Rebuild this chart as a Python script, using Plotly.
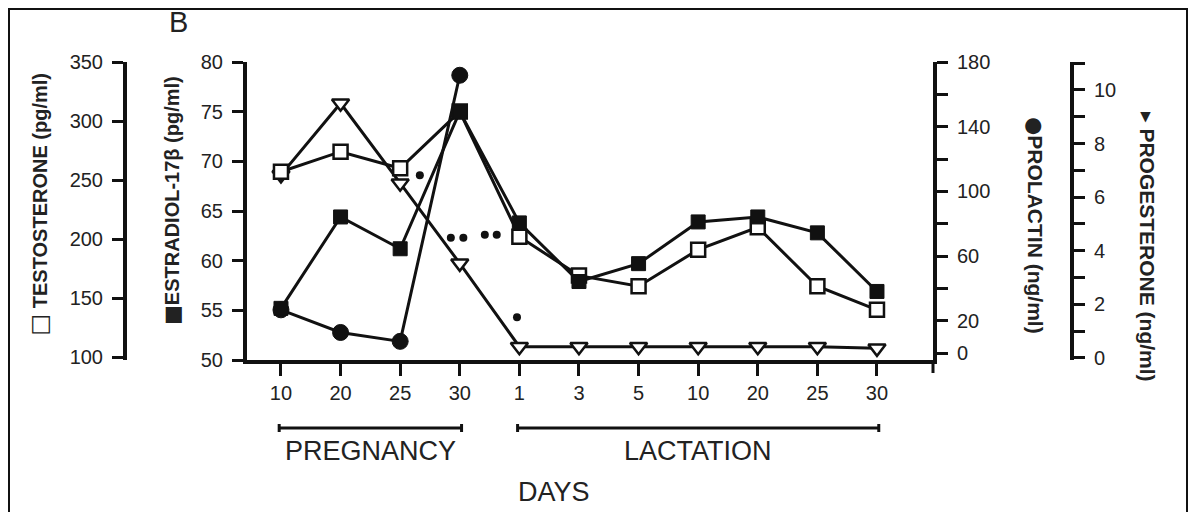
import plotly.graph_objects as go

# ---- data -------------------------------------------------------------
day_labels = ["10", "20", "25", "30", "1", "3", "5", "10", "20", "25", "30"]
testosterone = [257, 274, 260, 308, 202, 169, 160, 191, 210, 160, 140]      # pg/ml
estradiol = [55.2, 64.4, 61.2, 75.0, 63.8, 57.9, 59.7, 63.9, 64.4, 62.8, 56.9]  # pg/ml
prolactin = [26.7, 12.7, 7.2, 171.8]                                      # ng/ml, pregnancy only
progesterone = [6.83, 9.5, 6.52, 3.53, 0.42, 0.42, 0.42, 0.42, 0.42, 0.42, 0.36]  # ng/ml

# significance marks (day index, estradiol-scale height)
sig_x = [2.33, 2.85, 3.06, 3.42, 3.62, 3.96]
sig_y = [68.6, 62.3, 62.3, 62.6, 62.6, 54.3]

periods = [("PREGNANCY", 0, 3), ("LACTATION", 4, 10)]

testo_ticks = [100, 150, 200, 250, 300, 350]
estra_ticks = [50, 55, 60, 65, 70, 75, 80]
prl_ticks = [0, 20, 40, 60, 80, 100, 120, 140, 160, 180]
prl_text = ["0", "20", "", "60", "", "100", "", "140", "", "180"]
prog_ticks = list(range(12))
prog_text = ["0", "", "2", "", "4", "", "6", "", "8", "", "10", ""]

# ---- styling / geometry -------------------------------------------------
W, H = 1195, 512
INK = "#111111"
TXT = "#222222"
FONT = "Liberation Sans, Arial, Helvetica, sans-serif"
SYMFONT = "DejaVu Sans"


def px_x(p):
    return p / W


def px_y(p):
    return 1 - p / H


def sym(ch, size):
    return f'<span style="font-size:{size}px;font-family:{SYMFONT}">{ch}</span>'


X_DOM = [px_x(247), px_x(933)]
Y_DOM = [px_y(360), px_y(62)]

x = list(range(len(day_labels)))
line = dict(color=INK, width=3)

fig = go.Figure()
fig.add_trace(go.Scatter(
    x=x, y=progesterone, yaxis="y", mode="lines+markers", line=line,
    marker=dict(symbol="triangle-down", size=15, color="white",
                line=dict(color=INK, width=2.5))))
fig.add_trace(go.Scatter(
    x=x, y=testosterone, yaxis="y2", mode="lines+markers", line=line,
    marker=dict(symbol="square", size=14, color="white",
                line=dict(color=INK, width=2.5))))
fig.add_trace(go.Scatter(
    x=x[:len(prolactin)], y=prolactin, yaxis="y3", mode="lines+markers", line=line,
    marker=dict(symbol="circle", size=16, color=INK, line=dict(color=INK, width=1))))
fig.add_trace(go.Scatter(
    x=x, y=estradiol, yaxis="y4", mode="lines+markers", line=line,
    marker=dict(symbol="square", size=14, color=INK, line=dict(color=INK, width=1))))
fig.add_trace(go.Scatter(
    x=sig_x, y=sig_y, yaxis="y4", mode="markers",
    marker=dict(symbol="circle", size=8, color=INK)))

axis_base = dict(
    showline=True, linecolor=INK, linewidth=4, ticks="outside", ticklen=11,
    tickwidth=3, tickcolor=INK, showgrid=False, zeroline=False,
    tickfont=dict(family=FONT, size=20, color=TXT), domain=Y_DOM,
    automargin=False, fixedrange=True, ticklabelstandoff=5,
)

fig.update_layout(
    width=W, height=H, template="none", showlegend=False,
    margin=dict(l=0, r=0, t=0, b=0, pad=0),
    paper_bgcolor="white", plot_bgcolor="white",
    xaxis=dict(
        domain=X_DOM, range=[-0.57, 10.94], anchor="y",
        tickvals=x, ticktext=day_labels, showline=True, linecolor=INK,
        linewidth=4, ticks="outside", ticklen=12, tickwidth=3, tickcolor=INK,
        showgrid=False, zeroline=False, automargin=False, fixedrange=True,
        tickfont=dict(family=FONT, size=20, color=TXT), ticklabelstandoff=0,
    ),
    yaxis=dict(axis_base, anchor="free", position=px_x(1072), side="right",
               range=[-0.075, 11.04], tickvals=prog_ticks, ticktext=prog_text),
    yaxis2=dict(axis_base, overlaying="y", anchor="free", position=px_x(125),
                side="left", range=[97.5, 350], tickvals=testo_ticks),
    yaxis3=dict(axis_base, overlaying="y", anchor="x", side="right",
                range=[-4.33, 180], tickvals=prl_ticks, ticktext=prl_text),
    yaxis4=dict(axis_base, overlaying="y", anchor="x", side="left",
                range=[50, 80], tickvals=estra_ticks),
)

shapes = [
    # outer frame
    dict(type="rect", xref="paper", yref="paper", x0=px_x(9), x1=px_x(1187),
         y0=-0.05, y1=px_y(9), line=dict(color=INK, width=2)),
    # closing tick where the day axis meets the prolactin axis
    dict(type="line", xref="x domain", yref="paper", x0=1, x1=1,
         y0=Y_DOM[0], y1=Y_DOM[0] - 13 / H, line=dict(color=INK, width=3)),
]
annotations = []
bar_y = px_y(428)
for name, i0, i1 in periods:
    a, b = i0 - 0.03, i1 + 0.03
    shapes.append(dict(type="line", xref="x", yref="paper", x0=a, x1=b,
                       y0=bar_y, y1=bar_y, line=dict(color=INK, width=3)))
    for e in (a, b):
        shapes.append(dict(type="line", xref="x", yref="paper", x0=e, x1=e,
                           y0=bar_y - 4 / H, y1=bar_y + 4 / H,
                           line=dict(color=INK, width=3)))
    annotations.append(dict(
        text=name, x=(i0 + i1) / 2, xref="x", y=px_y(451), yref="paper",
        showarrow=False, xanchor="center", yanchor="middle",
        font=dict(family=FONT, size=27, color=TXT)))

annotations += [
    dict(text="DAYS", x=px_x(554), y=px_y(492), xref="paper", yref="paper",
         showarrow=False, xanchor="center", yanchor="middle",
         font=dict(family=FONT, size=27, color=TXT)),
    dict(text="B", x=px_x(178), y=px_y(22), xref="paper", yref="paper",
         showarrow=False, xanchor="center", yanchor="middle",
         font=dict(family=FONT, size=29, color=TXT)),
    dict(text="<b>" + sym("□", 23) + " TESTOSTERONE (pg/ml)</b>",
         x=px_x(38.5), y=px_y(204),
         xref="paper", yref="paper", textangle=-90, showarrow=False,
         xanchor="center", yanchor="middle",
         font=dict(family=FONT, size=20, color=TXT)),
    dict(text="<b>" + sym("■", 21) + "ESTRADIOL-17β (pg/ml)</b>",
         x=px_x(172), y=px_y(201),
         xref="paper", yref="paper", textangle=-90, showarrow=False,
         xanchor="center", yanchor="middle",
         font=dict(family=FONT, size=20, color=TXT)),
    dict(text="<b>" + sym("●", 21) + "PROLACTIN (ng/ml)</b>",
         x=px_x(1035), y=px_y(225),
         xref="paper", yref="paper", textangle=90, showarrow=False,
         xanchor="center", yanchor="middle",
         font=dict(family=FONT, size=21, color=TXT)),
    dict(text="<b>" + sym("▸", 21) + " PROGESTERONE (ng/ml)</b>",
         x=px_x(1147), y=px_y(247),
         xref="paper", yref="paper", textangle=90, showarrow=False,
         xanchor="center", yanchor="middle",
         font=dict(family=FONT, size=21, color=TXT)),
]

fig.update_layout(shapes=shapes, annotations=annotations)
fig.write_html("out.html")
